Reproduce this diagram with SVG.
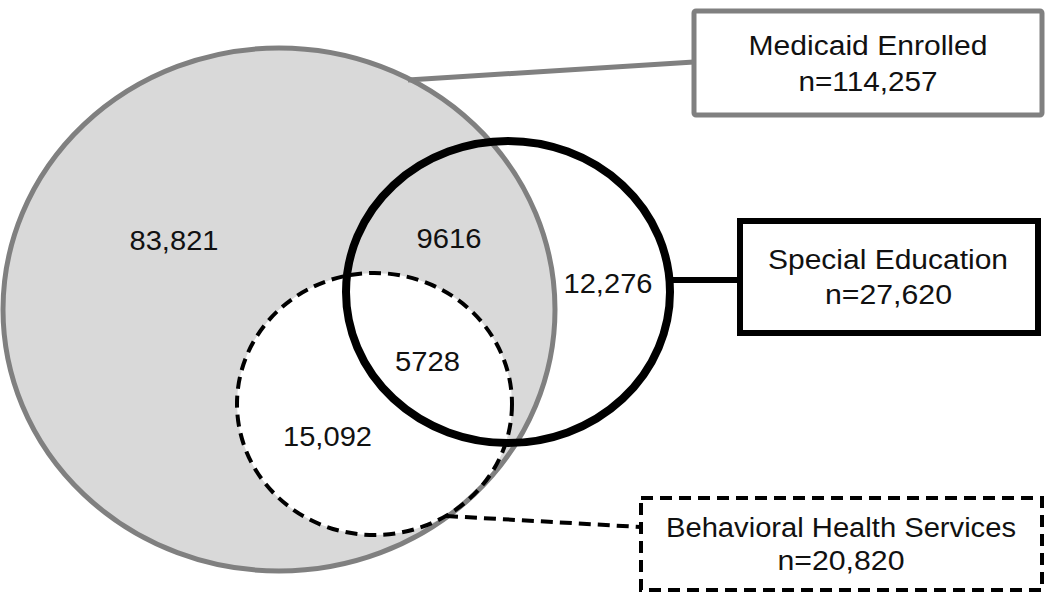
<svg xmlns="http://www.w3.org/2000/svg" width="1050" height="597" viewBox="0 0 1050 597">
<style>
text{font-family:"Liberation Sans",Arial,Helvetica,sans-serif;fill:#111;text-anchor:middle;}
.num{font-size:27px;}
.lbl{font-size:27px;}
.gray{stroke:#808080;stroke-width:5;fill:none;}
.blk{stroke:#000;stroke-width:8;fill:none;}
.dash{stroke:#000;stroke-width:4;fill:none;stroke-dasharray:12 7;}
</style>
<rect width="1050" height="597" fill="#fff"/>
<g id="venn">
<ellipse cx="279" cy="309.5" rx="276" ry="261.5" fill="#d9d9d9"/>
<ellipse cx="374.5" cy="404" rx="137.5" ry="131" fill="#fff"/>
<ellipse class="gray" cx="279" cy="309.5" rx="276" ry="261.5"/>
<ellipse class="blk" cx="508" cy="292" rx="162" ry="151"/>
<ellipse class="dash" cx="374.5" cy="404" rx="137.5" ry="131"/>
<text class="num" x="174" y="250" textLength="89" lengthAdjust="spacingAndGlyphs">83,821</text>
<text class="num" x="449" y="248" textLength="65" lengthAdjust="spacingAndGlyphs">9616</text>
<text class="num" x="608" y="293" textLength="89" lengthAdjust="spacingAndGlyphs">12,276</text>
<text class="num" x="427.5" y="371" textLength="65" lengthAdjust="spacingAndGlyphs">5728</text>
<text class="num" x="327.5" y="446" textLength="89" lengthAdjust="spacingAndGlyphs">15,092</text>
</g>
<g id="connectors">
<line class="gray" x1="408" y1="80" x2="694" y2="62"/>
<line class="blk" stroke-width="6" style="stroke-width:6" x1="670" y1="280" x2="740" y2="280"/>
<line class="dash" x1="446" y1="516" x2="641" y2="527"/>
</g>
<g id="medicaid">
<rect class="gray" x="694" y="11" width="348" height="104" rx="2" fill="#fff" style="fill:#fff"/>
<text class="lbl" x="868" y="55" textLength="239" lengthAdjust="spacingAndGlyphs">Medicaid Enrolled</text>
<text class="lbl" x="868" y="91" textLength="139" lengthAdjust="spacingAndGlyphs">n=114,257</text>
</g>
<g id="special">
<rect x="740" y="221" width="298" height="112" fill="#fff" stroke="#000" stroke-width="6"/>
<text class="lbl" x="888" y="269" textLength="240" lengthAdjust="spacingAndGlyphs">Special Education</text>
<text class="lbl" x="888.5" y="304" textLength="127" lengthAdjust="spacingAndGlyphs">n=27,620</text>
</g>
<g id="behavioral">
<rect class="dash" x="641" y="498" width="401" height="92" style="fill:#fff"/>
<text class="lbl" x="841" y="537" textLength="350" lengthAdjust="spacingAndGlyphs">Behavioral Health Services</text>
<text class="lbl" x="841" y="570" textLength="127" lengthAdjust="spacingAndGlyphs">n=20,820</text>
</g>
</svg>
